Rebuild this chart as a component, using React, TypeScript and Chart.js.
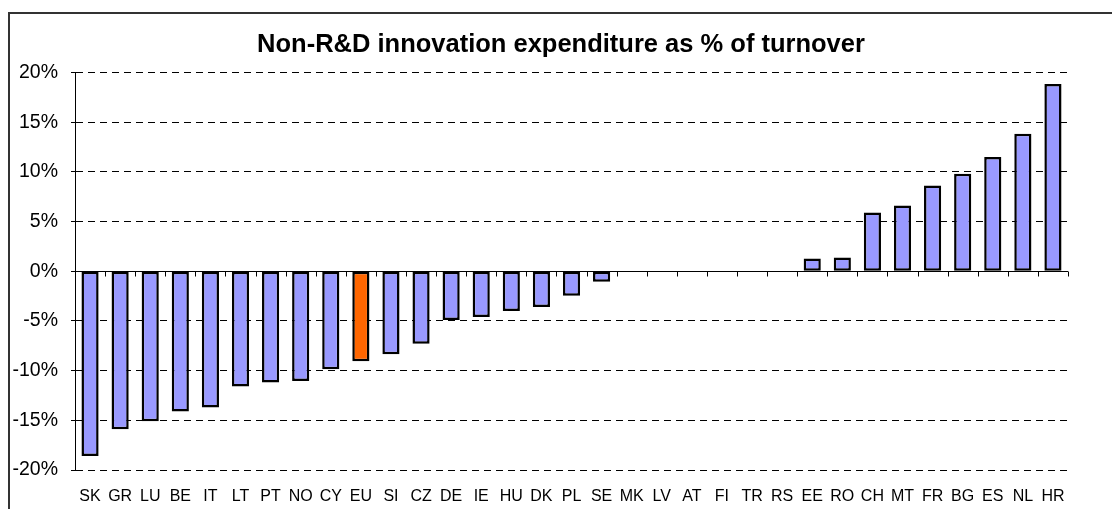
import React, { useEffect, useRef } from "react";
import { Chart, registerables } from "chart.js";

Chart.register(...registerables);

const categories = ["SK","GR","LU","BE","IT","LT","PT","NO","CY","EU","SI","CZ","DE","IE","HU","DK","PL","SE","MK","LV","AT","FI","TR","RS","EE","RO","CH","MT","FR","BG","ES","NL","HR"];
const values = [-18.6,-15.9,-15.1,-14.1,-13.7,-11.6,-11.2,-11.05,-9.85,-9.05,-8.35,-7.3,-4.9,-4.6,-4.0,-3.6,-2.45,-1.05,0,0,0,0,0,0,1.28,1.38,5.93,6.63,8.64,9.82,11.5,13.84,18.86];
const highlightCategory = "EU";
const yTicks = [-20,-15,-10,-5,0,5,10,15,20];
const titleText = "Non-R&D innovation expenditure as % of turnover";

const FONT = "'Liberation Sans', Arial, sans-serif";

const zeroAxisPlugin = {
  id: "zeroAxis",
  afterDatasetsDraw(chart: any) {
    const { ctx, chartArea, scales } = chart;
    const x = scales.x;
    const y = scales.y;
    const y0 = Math.round(y.getPixelForValue(0)) + 0.5;
    ctx.save();
    ctx.strokeStyle = "#000";
    ctx.lineWidth = 1;
    ctx.setLineDash([]);
    ctx.beginPath();
    ctx.moveTo(chartArea.left, y0);
    ctx.lineTo(chartArea.right, y0);
    for (let i = 0; i <= categories.length; i++) {
      const px = Math.round(x.getPixelForValue(i - 0.5)) + 0.5;
      ctx.moveTo(px, y0);
      ctx.lineTo(px, y0 + 5);
    }
    ctx.stroke();
    ctx.restore();
  },
};

export default function App() {
  const ref = useRef<HTMLCanvasElement>(null);
  useEffect(() => {
    if (!ref.current) return;
    const chart = new Chart(ref.current, {
      type: "bar",
      data: {
        labels: categories,
        datasets: [
          {
            data: values,
            backgroundColor: categories.map((c) => (c === highlightCategory ? "#FF6600" : "#9999FF")),
            borderColor: "#000",
            borderWidth: 2.5,
            borderSkipped: false,
            barPercentage: 0.57,
            categoryPercentage: 1,
          },
        ],
      },
      options: {
        responsive: false,
        animation: false,
        layout: { padding: { left: 0, right: 0, top: 0, bottom: 4 } },
        plugins: {
          legend: { display: false },
          tooltip: { enabled: false },
          title: {
            display: true,
            text: titleText,
            color: "#000",
            font: { family: FONT, size: 25.5, weight: "bold", lineHeight: 1.2 },
            padding: { top: 16, bottom: 12 },
          },
        },
        scales: {
          x: {
            afterFit(scale: any) {
              scale.height = 35;
            },
            grid: { display: false, drawTicks: false },
            border: { display: false },
            ticks: {
              color: "#000",
              font: { family: FONT, size: 16 },
              padding: 17,
              maxRotation: 0,
              autoSkip: false,
            },
          },
          y: {
            min: -20,
            max: 20,
            afterFit(scale: any) {
              scale.width = 65;
            },
            afterBuildTicks(scale: any) {
              scale.ticks = yTicks.map((v) => ({ value: v }));
            },
            grid: {
              color: "#000",
              lineWidth: 1,
              tickLength: 4,
              tickColor: "#000",
            },
            border: { display: true, color: "#000", width: 1, dash: [7, 5] },
            ticks: {
              color: "#000",
              font: { family: FONT, size: 19.5 },
              padding: 13,
              callback: (v: any) => `${v}%`,
            },
          },
          yRightSpace: {
            type: "linear",
            position: "right",
            display: true,
            afterFit(scale: any) {
              scale.width = 44;
            },
            grid: { display: false, drawTicks: false },
            border: { display: false },
            ticks: { display: false },
          },
        },
      },
      plugins: [zeroAxisPlugin],
    });
    return () => chart.destroy();
  }, []);
  return (
    <div
      style={{
        position: "fixed",
        left: 8,
        top: 12,
        width: 1104,
        height: 497,
        boxSizing: "border-box",
        borderTop: "2px solid #333",
        borderLeft: "2px solid #333",
        overflow: "hidden",
      }}
    >
      <canvas ref={ref} width={1102} height={495} style={{ display: "block" }} />
    </div>
  );
}
